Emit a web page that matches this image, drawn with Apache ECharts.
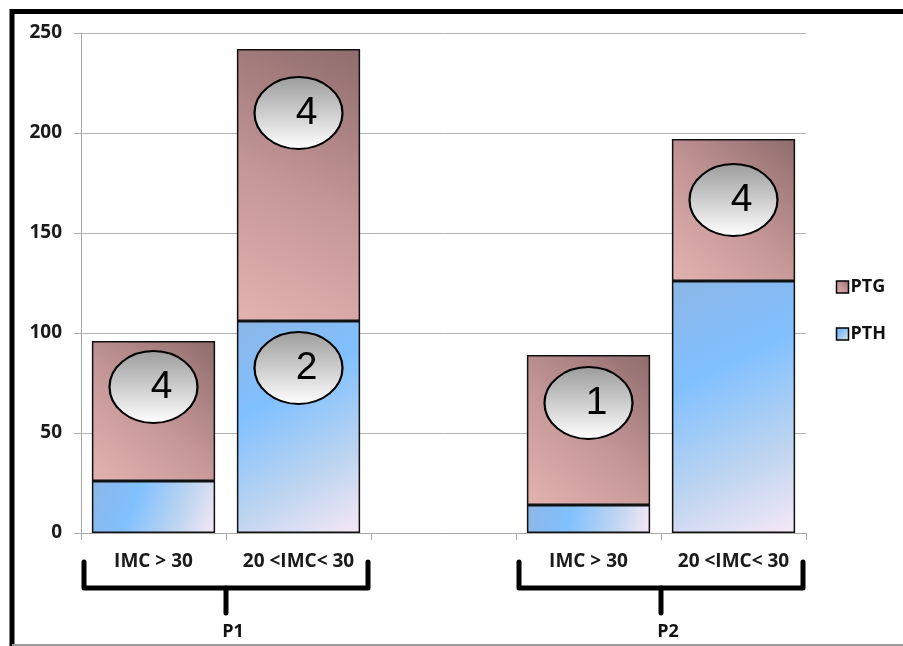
<!DOCTYPE html>
<html>
<head>
<meta charset="utf-8">
<script src="https://cdn.jsdelivr.net/npm/echarts@6/dist/echarts.min.js"></script>
<style>
html,body{margin:0;padding:0;background:#fff;}
#c{width:903px;height:646px;}
</style>
</head>
<body>
<div id="c"></div>
<script>
var categories = ['IMC > 30', '20 <IMC< 30', '', 'IMC > 30', '20 <IMC< 30'];
var pthValues = [26, 106, null, 14, 126];
var ptgValues = [70, 136, null, 75, 71];
var yTicks = {min: 0, max: 250, interval: 50};
var bubbles = [
  {cat: 0, value: 73, label: '4'},
  {cat: 1, value: 210, label: '4'},
  {cat: 1, value: 82.5, label: '2'},
  {cat: 3, value: 65, label: '1'},
  {cat: 4, value: 166.5, label: '4'}
];
var groups = [
  {name: 'P1', from: 0, to: 1},
  {name: 'P2', from: 3, to: 4}
];

var chart = echarts.init(document.getElementById('c'));
var FONT = '"Open Sans", "Liberation Sans", sans-serif';

var pthColor = {type: 'linear', x: 0, y: 0, x2: 1, y2: 1, colorStops: [
  {offset: 0, color: '#8cb6e6'}, {offset: 0.35, color: '#80c0ff'}, {offset: 0.7, color: '#bcd4f0'}, {offset: 1, color: '#f6e8f6'}]};
var ptgColor = {type: 'linear', x: 1, y: 0, x2: 0, y2: 1, colorStops: [
  {offset: 0, color: '#8f6c6c'}, {offset: 0.5, color: '#c39595'}, {offset: 1, color: '#e3b3b1'}]};
var ellColor = {type: 'linear', x: 0, y: 0, x2: 0, y2: 1, colorStops: [
  {offset: 0, color: '#9c9c9c'}, {offset: 1, color: '#ffffff'}]};

var markData = bubbles.map(function (b) {
  return {coord: [b.cat, b.value], value: b.label};
});

var option = {
  animation: false,
  backgroundColor: '#fff',
  grid: {left: 81, top: 33, right: 97, bottom: 113, containLabel: false},
  legend: {
    orient: 'vertical', right: 12, top: 273, itemGap: 29,
    itemWidth: 12, itemHeight: 12, icon: 'rect',
    data: [
      {name: 'PTG', itemStyle: {color: ptgColor, borderColor: '#000', borderWidth: 1.5}},
      {name: 'PTH', itemStyle: {color: pthColor, borderColor: '#000', borderWidth: 1.5}}
    ],
    textStyle: {fontFamily: FONT, fontWeight: 'bold', fontSize: 18, color: '#111', padding: [0, 0, 0, -3]}
  },
  xAxis: {
    type: 'category', data: categories,
    axisLine: {lineStyle: {color: '#a8a8a8', width: 1}},
    axisTick: {show: true, length: 7, lineStyle: {color: '#a8a8a8'}},
    axisLabel: {interval: 0, hideOverlap: false, fontFamily: FONT, fontWeight: 'bold', fontSize: 19, color: '#1a1a1a', margin: 19}
  },
  yAxis: {
    type: 'value', min: yTicks.min, max: yTicks.max, interval: yTicks.interval,
    axisLine: {show: true, lineStyle: {color: '#a8a8a8', width: 1}},
    axisTick: {show: true, length: 7, lineStyle: {color: '#a8a8a8'}},
    splitLine: {lineStyle: {color: '#b4b4b4', width: 1}},
    axisLabel: {fontFamily: FONT, fontWeight: 'bold', fontSize: 19, color: '#1a1a1a', margin: 19}
  },
  series: [
    {
      name: 'PTH', type: 'bar', stack: 's', data: pthValues, barWidth: '85%',
      itemStyle: {color: pthColor, borderColor: '#111', borderWidth: 1.5}
    },
    {
      name: 'PTG', type: 'bar', stack: 's', data: ptgValues, barWidth: '85%',
      itemStyle: {color: ptgColor, borderColor: '#111', borderWidth: 1.5},
      markPoint: {
        symbol: 'circle', symbolSize: [88, 72],
        itemStyle: {color: ellColor, borderColor: '#000', borderWidth: 2},
        label: {show: true, formatter: '{c}', color: '#000', fontSize: 39,
          fontFamily: '"Liberation Sans", Arial, sans-serif', offset: [8, 0]},
        data: markData
      }
    }
  ]
};
chart.setOption(option);

// frame + group braces computed from the axes
var g = [];
g.push({type: 'rect', shape: {x: 12, y: 11.5, width: 1000, height: 700},
  style: {fill: 'none', stroke: '#000', lineWidth: 5}, silent: true});
g.push({type: 'line', shape: {x1: 12, y1: 645, x2: 903, y2: 645},
  style: {stroke: '#9a9a9a', lineWidth: 2}, silent: true});
var baseY = chart.convertToPixel({yAxisIndex: 0}, 0);
groups.forEach(function (gr) {
  var half = chart.convertToPixel({xAxisIndex: 0}, 1) - chart.convertToPixel({xAxisIndex: 0}, 0);
  var x1 = chart.convertToPixel({xAxisIndex: 0}, gr.from) - half / 2 + 3;
  var x2 = chart.convertToPixel({xAxisIndex: 0}, gr.to) + half / 2 - 3;
  var xm = (x1 + x2) / 2;
  var yTop = baseY + 29, yBar = baseY + 55, yTip = baseY + 80;
  var st = {fill: 'none', stroke: '#000', lineWidth: 5, lineCap: 'round', lineJoin: 'round'};
  g.push({type: 'polyline', shape: {points: [[x1, yTop], [x1, yBar], [x2, yBar], [x2, yTop]]}, style: st, silent: true});
  g.push({type: 'line', shape: {x1: xm, y1: yBar, x2: xm, y2: yTip}, style: st, silent: true});
  g.push({type: 'text', x: xm + 7, y: yTip + 19,
    style: {text: gr.name, fontFamily: FONT, fontWeight: 'bold', fontSize: 18, fill: '#111',
      align: 'center', verticalAlign: 'middle'}, silent: true});
});
chart.setOption({graphic: g});
</script>
</body>
</html>
